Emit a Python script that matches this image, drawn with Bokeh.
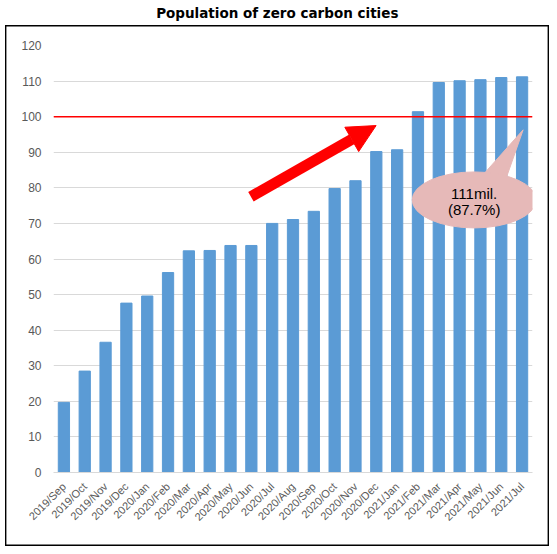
import math
from bokeh.plotting import figure
from bokeh.layouts import column
from bokeh.models import (FactorRange, Range1d, Span, Arrow, NormalHead, Label,
                          FixedTicker)
from bokeh.core.properties import value
from bokeh.embed import file_html
from bokeh.resources import INLINE

months = ["2019/Sep", "2019/Oct", "2019/Nov", "2019/Dec",
          "2020/Jan", "2020/Feb", "2020/Mar", "2020/Apr", "2020/May", "2020/Jun",
          "2020/Jul", "2020/Aug", "2020/Sep", "2020/Oct", "2020/Nov", "2020/Dec",
          "2021/Jan", "2021/Feb", "2021/Mar", "2021/Apr", "2021/May", "2021/Jun", "2021/Jul"]
population = [19.7, 28.5, 36.6, 47.6,
              49.6, 56.2, 62.3, 62.4, 63.8, 63.8,
              70.0, 71.1, 73.4, 79.8, 82.0, 90.2,
              90.7, 101.4, 109.6, 110.1, 110.4, 111.0, 111.2]
y_ticks = list(range(0, 121, 10))
target = 100
title_text = "Population of zero carbon cities"
callout_lines = ["111mil.", "(87.7%)"]

W = 549
TITLE_H = 25
MAIN_H = 521

# title strip
t = figure(width=W, height=TITLE_H, x_range=Range1d(0, W), y_range=Range1d(0, TITLE_H),
           output_backend="svg", toolbar_location=None,
           x_axis_location=None, y_axis_location=None,
           min_border_left=0, min_border_right=0, min_border_top=0, min_border_bottom=0)
t.grid.visible = False
t.outline_line_color = None
t.text(x=[256.5], y=[13], text=[title_text], text_align="center", text_baseline="middle",
       text_font=value("DejaVu Sans"), text_font_style="bold", text_font_size="13.5px",
       text_color="black")

# main chart
p = figure(x_range=FactorRange(factors=months), y_range=Range1d(0, 120),
           width=W, height=MAIN_H, output_backend="svg", toolbar_location=None,
           min_border_left=53, min_border_right=17, min_border_top=20,
           min_border_bottom=74)
p.styles = {"box-shadow": "inset 5px 0 0 0 #ffffff, inset 6.4px 0 0 0 #000000, inset 0 0 0 1.4px #000000",
            "background-color": "white"}
p.border_fill_color = None
p.background_fill_color = None
p.outline_line_color = None

p.vbar(x=months, top=population, width=0.54, color="#5B9BD5")

p.xaxis.major_label_orientation = math.pi / 4
p.xaxis.major_label_text_font = "Liberation Sans"
p.xaxis.major_label_text_font_size = "11px"
p.xaxis.major_label_text_color = "#595959"
p.xaxis.major_tick_line_color = None
p.xaxis.axis_line_color = "#D9D9D9"
p.xaxis.major_label_standoff = 6
p.xgrid.grid_line_color = None

p.yaxis.ticker = FixedTicker(ticks=y_ticks)
p.yaxis.axis_line_color = None
p.yaxis.major_tick_line_color = None
p.yaxis.minor_tick_line_color = None
p.yaxis.major_label_text_font = "Liberation Sans"
p.yaxis.major_label_text_font_size = "12px"
p.yaxis.major_label_text_color = "#595959"
p.yaxis.major_label_standoff = 6
p.ygrid.grid_line_color = "#D9D9D9"

p.add_layout(Span(location=target, dimension="width", line_color="#FF0000", line_width=1.5))

p.add_layout(Arrow(end=NormalHead(size=28, fill_color="#FF0000", line_color="#FF0000"),
                   x_start=9.48, y_start=77.5, x_end=15.49, y_end=97.5,
                   line_color="#FF0000", line_width=11))

p.patch(x=[20.63, 21.74, 22.55], y=[83.7, 82.8, 96.3], color="#E6B9B8")
p.ellipse(x=[20.2], y=[76.6], width=124, height=56, width_units="screen",
          height_units="screen", color="#E6B9B8")
p.add_layout(Label(x=20.2, y=78.3, text=callout_lines[0], text_align="center",
                   text_baseline="middle", text_font="Liberation Sans",
                   text_font_size="15px", text_color="black"))
p.add_layout(Label(x=20.2, y=73.8, text=callout_lines[1], text_align="center",
                   text_baseline="middle", text_font="Liberation Sans",
                   text_font_size="15px", text_color="black"))

layout = column(t, p, spacing=0)
open("out.html", "w").write(file_html(layout, INLINE))
